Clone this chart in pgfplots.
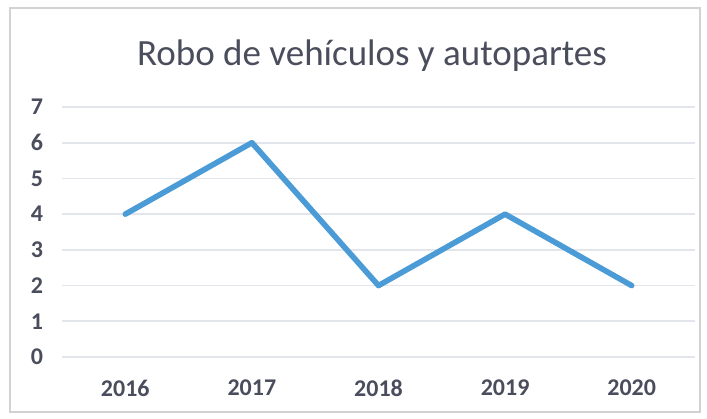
\documentclass[border=0pt]{standalone}
\usepackage{pgfplots}
\pgfplotsset{compat=1.18}
\usepackage{fontspec}
\setmainfont{Carlito}
\definecolor{lineblue}{HTML}{4A9BD6}
\definecolor{labgray}{HTML}{4A4E5C}
\definecolor{gridgray}{HTML}{E2E6EC}
\begin{document}
\begin{tikzpicture}[x=1pt,y=1pt]
\useasboundingbox (0,0) rectangle (353.5,209);
\draw[gray!35, line width=0.8pt] (5,3) rectangle (350,205);
\node[text=labgray, font=\fontsize{18.5}{21}\selectfont] at (186,181) {Robo de vehículos y autopartes};
\begin{axis}[
  at={(31pt,30.5pt)}, anchor=south west,
  scale only axis, width=316.5pt, height=125pt,
  xmin=-0.5, xmax=4.5, ymin=0, ymax=7,
  xtick={0,1,2,3,4}, xticklabels={2016,2017,2018,2019,2020},
  ytick={0,1,2,3,4,5,6,7},
  axis line style={draw=none},
  tick style={draw=none},
  ymajorgrids, grid style={gridgray, line width=0.8pt},
  /pgf/number format/assume math mode=true,
  tick label style={font=\fontsize{12}{14}\selectfont\bfseries, text=labgray},
  yticklabel style={xshift=-6pt},
  xticklabel style={yshift=-8pt},
  clip=false,
]
\addplot[lineblue, line width=2.8pt, line join=round, line cap=round] coordinates {(0,4) (1,6) (2,2) (3,4) (4,2)};
\end{axis}
\end{tikzpicture}
\end{document}
